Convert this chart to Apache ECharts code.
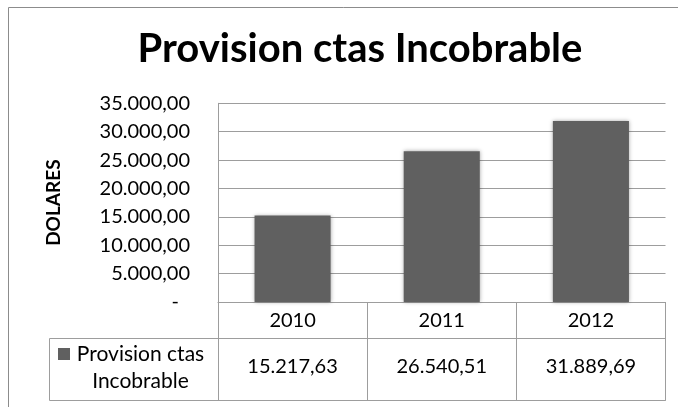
<!DOCTYPE html>
<html>
<head>
<meta charset="utf-8">
<script src="https://cdn.jsdelivr.net/npm/echarts@6/dist/echarts.min.js"></script>
<style>
  html, body { margin: 0; padding: 0; background: #ffffff; }
  #chart { width: 678px; height: 407px; }
</style>
</head>
<body>
<div id="chart"></div>
<script>
// Provisión de cuentas incobrables por año
const years = ['2010', '2011', '2012'];
const provision = [15217.63, 26540.51, 31889.69];
const seriesName = 'Provision ctas Incobrable';
const legendLines = ['Provision ctas', 'Incobrable'];
const yMin = 0;
const yMax = 35000;
const yStep = 5000;

const FONT = 'Lato';
const GRID = '#9d9d9d';
const BAR = '#606060';

// Formato numérico español: 31.889,69
function fmt(n) {
  const parts = n.toFixed(2).split('.');
  const int = parts[0].replace(/\B(?=(\d{3})+(?!\d))/g, '.');
  return int + ',' + parts[1];
}

const chart = echarts.init(document.getElementById('chart'), null, { renderer: 'canvas' });

const gridLeft = 218, gridRight = 12.5, gridTop = 103.3, gridBottom = 105;
const plotBottom = 407 - gridBottom;
const row1 = 36;   // alto de la fila de años
const row2 = 62;   // alto de la fila de valores

chart.setOption({
  animation: false,
  backgroundColor: '#ffffff',
  title: {
    text: seriesName,
    left: 355,
    top: 24,
    textAlign: 'center',
    textStyle: { fontFamily: FONT, fontWeight: 'bold', fontSize: 40, color: '#000' }
  },
  grid: { left: gridLeft, right: gridRight, top: gridTop, bottom: gridBottom, containLabel: false },
  xAxis: [
    {
      type: 'category',
      data: years,
      position: 'bottom',
      axisLine: { show: true, lineStyle: { color: GRID, width: 1 } },
      axisTick: { show: true, length: row1 + row2, lineStyle: { color: GRID, width: 1 } },
      axisLabel: { margin: 9, fontFamily: FONT, fontSize: 20, color: '#000' }
    },
    {
      type: 'category',
      data: years,
      position: 'bottom',
      offset: row1,
      axisLine: { show: true, lineStyle: { color: GRID, width: 1 } },
      axisTick: { show: false },
      axisLabel: {
        margin: 19, fontFamily: FONT, fontSize: 20, color: '#000',
        formatter: (v, i) => fmt(provision[i])
      }
    },
    {
      type: 'category',
      data: years,
      position: 'bottom',
      offset: row1 + row2,
      axisLine: { show: true, lineStyle: { color: GRID, width: 1 } },
      axisTick: { show: false },
      axisLabel: { show: false }
    }
  ],
  yAxis: {
    type: 'value',
    min: yMin,
    max: yMax,
    interval: yStep,
    name: 'DOLARES',
    nameLocation: 'middle',
    nameRotate: 90,
    nameGap: 155,
    nameTextStyle: { fontFamily: FONT, fontWeight: 'bold', fontSize: 19, color: '#000' },
    axisLine: { show: true, lineStyle: { color: GRID, width: 1 } },
    axisTick: { show: false },
    splitLine: { show: true, lineStyle: { color: GRID, width: 1 } },
    axisLabel: {
      margin: 28,
      fontFamily: FONT,
      fontSize: 20,
      color: '#000',
      formatter: v => v === 0 ? '{z|-}' : fmt(v),
      rich: { z: { fontFamily: FONT, fontSize: 20, color: '#000', padding: [0, 11, 0, 0] } }
    }
  },
  series: [{
    name: seriesName,
    type: 'bar',
    xAxisIndex: 0,
    data: provision,
    barCategoryGap: '49%',
    itemStyle: {
      color: BAR,
      shadowBlur: 4,
      shadowColor: 'rgba(0,0,0,0.35)',
      shadowOffsetX: 0,
      shadowOffsetY: 0
    }
  }],
  graphic: [
    // marco del gráfico
    {
      type: 'rect',
      shape: { x: 8.5, y: 7.5, width: 900, height: 600 },
      style: { fill: 'none', stroke: '#8c8c8c', lineWidth: 1 },
      silent: true
    },
    // celda de la leyenda en la tabla de datos
    {
      type: 'polyline',
      shape: { points: [[gridLeft, plotBottom + row1 + 0.5], [49.5, plotBottom + row1 + 0.5], [49.5, plotBottom + row1 + row2 + 0.5], [gridLeft, plotBottom + row1 + row2 + 0.5]] },
      style: { fill: 'none', stroke: GRID, lineWidth: 1 },
      silent: true
    },
    {
      type: 'rect',
      shape: { x: 58, y: 348, width: 12, height: 12 },
      style: { fill: BAR },
      silent: true
    },
    {
      type: 'text',
      x: 140.5,
      y: 354,
      style: { text: legendLines[0], fontFamily: FONT, fontSize: 21, fill: '#000', align: 'center', verticalAlign: 'middle' },
      silent: true
    },
    {
      type: 'text',
      x: 140.5,
      y: 381,
      style: { text: legendLines[1], fontFamily: FONT, fontSize: 21, fill: '#000', align: 'center', verticalAlign: 'middle' },
      silent: true
    }
  ]
});
</script>
</body>
</html>
